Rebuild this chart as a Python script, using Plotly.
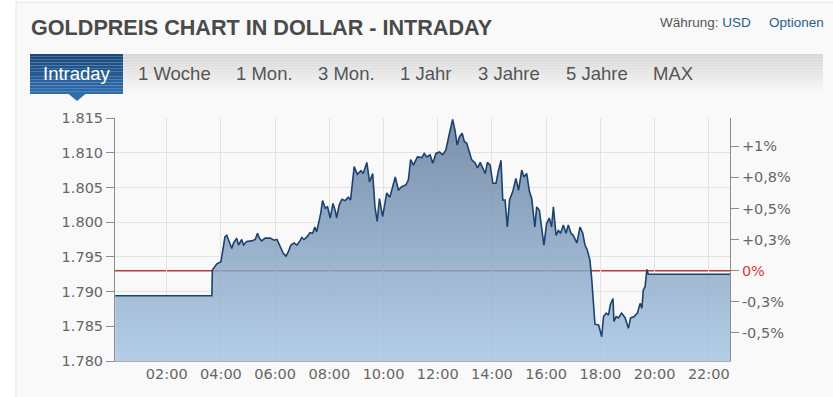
import plotly.graph_objects as go
import pandas as pd

# ---------------- data ----------------
minutes = [6, 220, 221, 231, 240, 244, 249, 253, 259, 264, 268, 275, 279, 286, 290, 297, 308, 316, 321, 325,
           330, 338, 349, 358, 364, 371, 378, 384, 389, 395, 402, 408, 414, 419, 424, 431, 437, 443, 448, 452,
           457, 461, 465, 471, 476, 482, 488, 493, 496, 502, 508, 515, 522, 527, 535, 542, 550, 555, 563, 569,
           576, 581, 586, 591, 598, 607, 614, 620, 626, 633, 640, 650, 655, 660, 666, 675, 685, 690, 696, 703,
           709, 716, 724, 731, 738, 746, 753, 758, 763, 768, 774, 779, 784, 790, 795, 803, 808, 814, 820, 825,
           830, 836, 842, 849, 854, 860, 864, 869, 874, 879, 886, 893, 899, 906, 911, 917, 923, 928, 935, 939,
           945, 950, 955, 961, 967, 972, 976, 982, 987, 992, 998, 1004, 1009, 1015, 1020, 1028, 1035, 1041, 1046, 1051,
           1057, 1061, 1065, 1068, 1076, 1079, 1083, 1087, 1093, 1098, 1102, 1108, 1110, 1115, 1120, 1127, 1135, 1142, 1147, 1155,
           1162, 1168, 1172, 1175, 1179, 1183, 1186, 1367]
prices = [1789.4, 1789.4, 1793.1, 1794.0, 1794.3, 1796.0, 1797.9, 1798.1, 1797.0, 1796.2, 1797.0, 1797.7, 1796.7, 1797.5, 1796.7, 1797.2, 1797.3, 1797.5, 1798.4, 1797.7,
          1797.3, 1797.7, 1797.7, 1797.4, 1797.5, 1796.5, 1795.5, 1795.1, 1795.7, 1796.7, 1797.0, 1796.7, 1797.2, 1797.8, 1797.5, 1797.9, 1798.5, 1798.4, 1799.3, 1798.6,
          1800.1, 1801.3, 1803.1, 1802.0, 1802.2, 1800.6, 1802.7, 1801.7, 1800.6, 1802.5, 1803.3, 1803.1, 1803.6, 1803.2, 1808.0, 1806.9, 1807.4, 1807.0, 1808.6, 1805.8,
          1807.0, 1802.2, 1800.1, 1803.4, 1800.8, 1804.2, 1803.6, 1804.9, 1806.5, 1804.6, 1805.1, 1805.4, 1806.1, 1809.0, 1808.2, 1809.4, 1809.3, 1809.9, 1809.4, 1809.7,
          1808.5, 1809.9, 1810.1, 1809.7, 1810.4, 1812.8, 1814.8, 1813.3, 1811.1, 1812.3, 1812.8, 1811.6, 1811.4, 1810.1, 1809.0, 1808.5, 1807.8, 1808.6, 1807.8, 1807.0,
          1808.6, 1808.2, 1805.6, 1805.6, 1807.3, 1808.9, 1803.2, 1803.2, 1799.3, 1803.2, 1804.4, 1806.3, 1804.6, 1807.5, 1806.5, 1807.0, 1804.4, 1803.4, 1799.3, 1802.2,
          1801.7, 1798.9, 1796.7, 1799.8, 1800.6, 1799.3, 1802.2, 1798.1, 1798.8, 1798.4, 1799.6, 1798.4, 1799.6, 1798.4, 1798.1, 1797.0, 1799.3, 1798.4, 1796.7, 1796.0,
          1794.5, 1791.7, 1787.8, 1785.3, 1785.2, 1784.5, 1783.5, 1786.4, 1786.9, 1786.6, 1788.1, 1789.0, 1785.7, 1786.4, 1786.2, 1786.9, 1786.2, 1784.7, 1786.2, 1786.4,
          1786.9, 1788.3, 1787.6, 1790.2, 1790.7, 1793.2, 1792.5, 1792.5]

previous_close = 1793.0
y_ticks = [1780, 1785, 1790, 1795, 1800, 1805, 1810, 1815]
pct_ticks = [-0.5, -0.25, 0, 0.25, 0.5, 0.75, 1.0]
pct_labels = ["-0,5%", "-0,3%", "<span style='color:#d23c3c'>0%</span>", "+0,3%", "+0,5%", "+0,8%", "+1%"]
x_tick_labels = ["02:00", "04:00", "06:00", "08:00", "10:00", "12:00", "14:00", "16:00", "18:00", "20:00", "22:00"]
tabs = ["1 Woche", "1 Mon.", "3 Mon.", "1 Jahr", "3 Jahre", "5 Jahre", "MAX"]

# ---------------- layout geometry ----------------
W, H = 833, 397
L, R, T, B = 115, 730, 118, 361


def px(xp):
    return (xp - L) / (R - L)


def py(yp):
    return (B - yp) / (B - T)


day = pd.Timestamp("2021-07-01")
times = [day + pd.Timedelta(minutes=m) for m in minutes]
x_tickvals = [day + pd.Timedelta(hours=int(s[:2])) for s in x_tick_labels]

y_lo, y_hi = y_ticks[0], y_ticks[-1]
pct_lo = (y_lo / previous_close - 1) * 100
pct_hi = (y_hi / previous_close - 1) * 100

fig = go.Figure()
fig.add_trace(go.Scatter(
    x=times, y=prices, mode="lines",
    line=dict(color="#1c4270", width=1.6),
    fill="tozeroy",
    fillgradient=dict(type="vertical", start=y_lo, stop=y_hi,
                      colorscale=[[0, "rgba(166,197,228,0.82)"], [1, "rgba(94,120,153,0.82)"]]),
    hoverinfo="skip", showlegend=False,
))
# invisible trace for right axis
fig.add_trace(go.Scatter(x=[times[0]], y=[0], yaxis="y2", mode="markers",
                         marker=dict(opacity=0), hoverinfo="skip", showlegend=False))

shapes = []
# panel background
shapes.append(dict(type="rect", xref="paper", yref="paper", layer="below",
                   x0=px(16), x1=px(845), y0=py(2), y1=py(410),
                   fillcolor="#f9f9f9", line=dict(color="#e4e4e4", width=1)))
# previous close line
shapes.append(dict(type="line", xref="paper", yref="y", layer="below",
                   x0=0, x1=1, y0=previous_close, y1=previous_close,
                   line=dict(color="#b83c3c", width=1.6)))
# gray tab band gradient
n = 14
band_top, band_bot = 54, 92
for i in range(n):
    t0 = band_top + (band_bot - band_top) * i / n
    t1 = band_top + (band_bot - band_top) * (i + 1) / n
    f = i / (n - 1)
    c = int(216 + (246 - 216) * f)
    shapes.append(dict(type="rect", xref="paper", yref="paper", layer="above",
                       x0=px(123), x1=px(823), y0=py(t1), y1=py(t0),
                       fillcolor=f"rgb({c},{c},{c})", line=dict(width=0)))
# blue Intraday tab gradient
tab_top, tab_bot = 54, 94
for i in range(n):
    t0 = tab_top + (tab_bot - tab_top) * i / n
    t1 = tab_top + (tab_bot - tab_top) * (i + 1) / n
    f = i / (n - 1)
    r = int(27 + (46 - 27) * f)
    g = int(74 + (108 - 74) * f)
    b = int(124 + (172 - 124) * f)
    shapes.append(dict(type="rect", xref="paper", yref="paper", layer="above",
                       x0=px(30), x1=px(123), y0=py(t1), y1=py(t0),
                       fillcolor=f"rgb({r},{g},{b})", line=dict(width=0)))
# pointer
shapes.append(dict(type="path", xref="paper", yref="paper", layer="above",
                   path=f"M {px(68)},{py(93.5)} L {px(86)},{py(93.5)} L {px(77)},{py(101)} Z",
                   fillcolor="rgb(46,108,172)", line=dict(width=0)))

annotations = []
annotations.append(dict(text="<b>GOLDPREIS CHART IN DOLLAR - INTRADAY</b>", xref="paper", yref="paper",
                        x=px(29), y=py(27), xanchor="left", yanchor="middle", showarrow=False,
                        font=dict(family="Liberation Sans, Arial", size=21.6, color="#4a4a4a")))
annotations.append(dict(text="Währung: <span style='color:#2b5d90'>USD</span>", xref="paper", yref="paper",
                        x=px(658), y=py(23), xanchor="left", yanchor="middle", showarrow=False,
                        font=dict(family="Liberation Sans, Arial", size=13.5, color="#555555")))
annotations.append(dict(text="Optionen", xref="paper", yref="paper",
                        x=px(767), y=py(23), xanchor="left", yanchor="middle", showarrow=False,
                        font=dict(family="Liberation Sans, Arial", size=13.5, color="#2b5d90")))
annotations.append(dict(text="Intraday", xref="paper", yref="paper",
                        x=px(76.5), y=py(73), xanchor="center", yanchor="middle", showarrow=False,
                        font=dict(family="Liberation Sans, Arial", size=18.5, color="#ffffff")))
tab_x = [136, 234, 316, 398, 476, 564, 651]
for label, xx in zip(tabs, tab_x):
    annotations.append(dict(text=label, xref="paper", yref="paper",
                            x=px(xx), y=py(73), xanchor="left", yanchor="middle", showarrow=False,
                            font=dict(family="Liberation Sans, Arial", size=18.5, color="#555555")))

tick_font = dict(family="DejaVu Sans, Verdana", size=14.5, color="#666666")

fig.update_layout(
    width=W, height=H, autosize=False,
    margin=dict(l=L, r=W - R, t=T, b=H - B, pad=0),
    paper_bgcolor="#ffffff", plot_bgcolor="rgba(0,0,0,0)",
    separators=",.",
    shapes=shapes, annotations=annotations,
    xaxis=dict(type="date", range=[day + pd.Timedelta(minutes=5.5), day + pd.Timedelta(minutes=1367)],
               tickvals=x_tickvals, ticktext=x_tick_labels, showgrid=True, gridcolor="#e3e3e3", gridwidth=1,
               showline=True, linecolor="#b0b0b0", linewidth=1, ticks="", zeroline=False,
               tickfont=tick_font, fixedrange=True),
    yaxis=dict(range=[y_lo, y_hi], tickvals=y_ticks, tickformat=",.0f", showgrid=True,
               gridcolor="#e3e3e3", gridwidth=1, showline=True, linecolor="#8c8c8c", linewidth=1,
               ticks="outside", ticklen=8, tickcolor="#8c8c8c", zeroline=False, tickfont=tick_font,
               fixedrange=True),
    yaxis2=dict(overlaying="y", side="right", range=[pct_lo, pct_hi], tickvals=pct_ticks,
                ticktext=pct_labels, showgrid=False, showline=True, linecolor="#8c8c8c", linewidth=1,
                ticks="outside", ticklen=8, tickcolor="#8c8c8c", zeroline=False, tickfont=tick_font,
                fixedrange=True),
)

fig.write_html("out.html", config={"displayModeBar": False},
               post_script="document.body.style.margin='0';document.body.style.overflow='hidden';")
